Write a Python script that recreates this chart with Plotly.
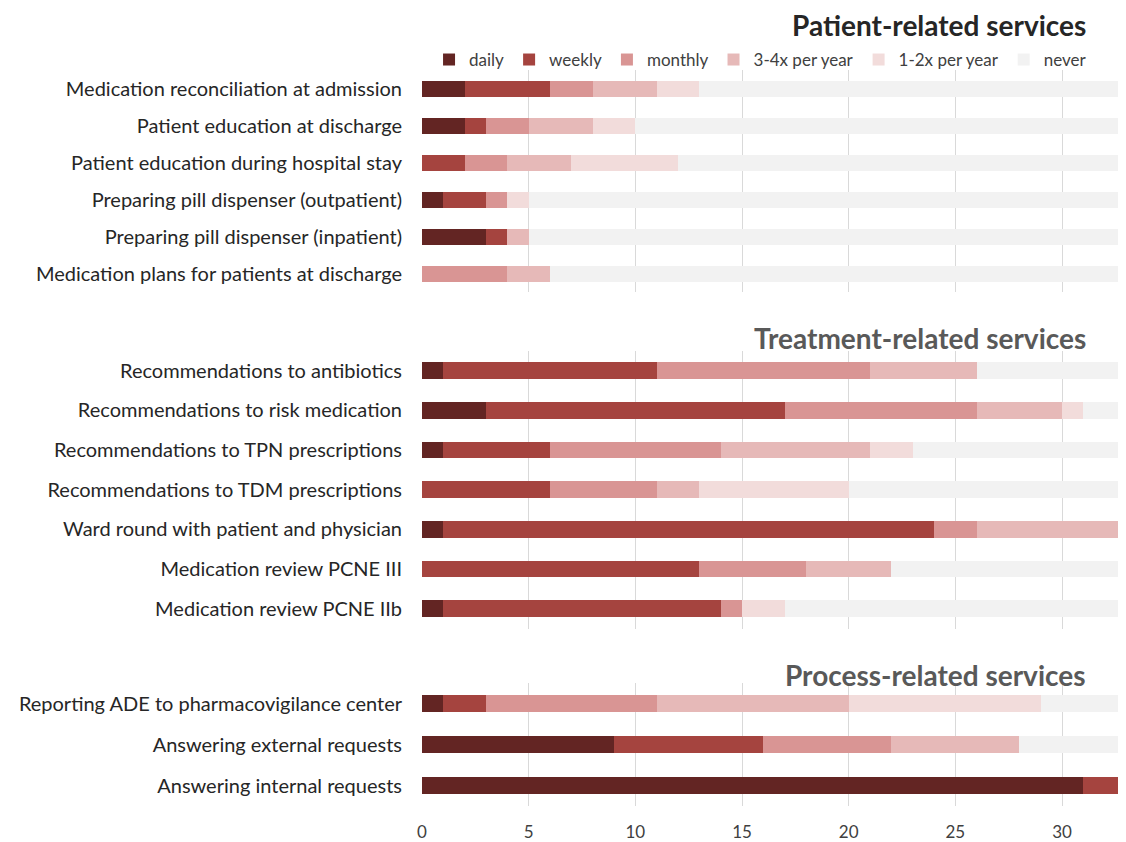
import plotly.graph_objects as go
from plotly.subplots import make_subplots

# services, top to bottom, grouped by panel
patient_services = ["Medication reconciliation at admission", "Patient education at discharge",
                    "Patient education during hospital stay", "Preparing pill dispenser (outpatient)",
                    "Preparing pill dispenser (inpatient)", "Medication plans for patients at discharge"]
treatment_services = ["Recommendations to antibiotics", "Recommendations to risk medication",
                      "Recommendations to TPN prescriptions", "Recommendations to TDM prescriptions",
                      "Ward round with patient and physician", "Medication review PCNE III",
                      "Medication review PCNE IIb"]
process_services = ["Reporting ADE to pharmacovigilance center", "Answering external requests",
                    "Answering internal requests"]

panel_titles = ["Patient-related services", "Treatment-related services", "Process-related services"]
frequencies = ["daily", "weekly", "monthly", "3-4x per year", "1-2x per year", "never"]

# counts per frequency, in the order patient + treatment + process services
daily   = [2, 2, 0, 1, 3, 0,   1, 3, 1, 0, 1, 0, 1,    1, 9, 31]
weekly  = [4, 1, 2, 2, 1, 0,   10, 14, 5, 6, 23, 13, 13,   2, 7, 2]
monthly = [2, 2, 2, 1, 0, 4,   10, 9, 8, 5, 2, 5, 1,   8, 6, 0]
q34     = [3, 3, 3, 0, 1, 2,   5, 4, 7, 2, 7, 4, 0,    9, 6, 0]
y12     = [2, 2, 5, 1, 0, 0,   0, 1, 2, 7, 0, 0, 2,    9, 0, 0]
never   = [20, 23, 21, 28, 28, 27,   7, 2, 10, 13, 0, 11, 16,   4, 5, 0]

colors = ["#632523", "#a5443f", "#d99594", "#e6b9b8", "#f2dcdb", "#f2f2f2"]
series = [daily, weekly, monthly, q34, y12, never]

panels = [patient_services, treatment_services, process_services]

fig = make_subplots(rows=3, cols=1)

start = 0
for r, cats in enumerate(panels, start=1):
    n = len(cats)
    for name, vals, col in zip(frequencies, series, colors):
        fig.add_trace(go.Bar(y=cats, x=vals[start:start + n], name=name, orientation="h",
                             marker_color=col, marker_line_width=0, legendgroup=name,
                             showlegend=(r == 1)), row=r, col=1)
    start += n

# page body adds an 8px margin, so the figure is drawn 8px smaller
off = 8
W, H = 1126 - off, 842 - off
mt, mb = 0, 35.5
ph = H - mt - mb


def frac(px):
    return (ph - (px - off)) / ph


domains = [[frac(292.5), frac(70.5)], [frac(629), frac(351)], [0, frac(683.5)]]
widths = [0.44, 0.42, 0.42]

for i in range(3):
    ax = "yaxis" if i == 0 else "yaxis%d" % (i + 1)
    xax = "xaxis" if i == 0 else "xaxis%d" % (i + 1)
    fig.layout[ax].update(domain=domains[i], autorange="reversed", showgrid=False,
                          ticks="", ticklabelstandoff=19, automargin=False,
                          tickfont=dict(size=20, color="#262626"))
    fig.layout[xax].update(range=[0, 33], tick0=0, dtick=5, showgrid=True, gridcolor="#d9d9d9",
                           gridwidth=1, zeroline=False, showline=False, ticks="",
                           showticklabels=(i == 2), ticklabelstandoff=14, automargin=False,
                           tickfont=dict(size=17, color="#404040"))

for i, tr in enumerate(fig.data):
    tr.width = widths[i // 6]

title_y = [frac(25), frac(338), frac(675)]
title_col = ["#262626", "#595959", "#595959"]
for t, yy, c in zip(panel_titles, title_y, title_col):
    fig.add_annotation(text="<b>%s</b>" % t, xref="paper", yref="paper", x=(1088 - 422) / 704, y=yy,
                       xanchor="right", yanchor="middle", showarrow=False,
                       font=dict(size=28, color=c))

fig.update_layout(
    width=W, height=H, barmode="stack", bargap=0.55,
    margin=dict(l=422 - off, r=0, t=mt, b=mb, autoexpand=False),
    plot_bgcolor="white", paper_bgcolor="white",
    font=dict(family="Lato, Open Sans, sans-serif", color="#404040"),
    legend=dict(orientation="h", x=0.01, y=frac(60), xanchor="left", yanchor="middle",
                font=dict(size=17, color="#404040"), traceorder="normal",
                itemwidth=30, bgcolor="rgba(0,0,0,0)"),
)

fig.write_html("out.html")
